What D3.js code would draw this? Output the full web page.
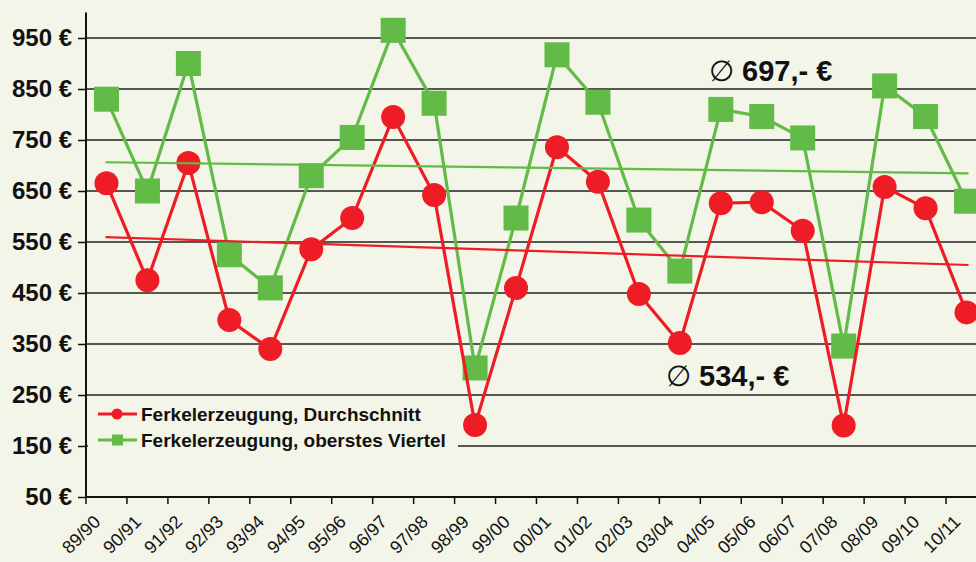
<!DOCTYPE html>
<html><head><meta charset="utf-8">
<script src="https://cdn.jsdelivr.net/npm/d3@7"></script>
<style>
html,body{margin:0;padding:0;background:#F2F5E8;}
svg{display:block;font-family:"Liberation Sans",Arial,sans-serif;}
</style></head>
<body>
<svg id="chart" width="976" height="562"></svg>
<script>
const categories = ["89/90","90/91","91/92","92/93","93/94","94/95","95/96","96/97","97/98","98/99","99/00","00/01","01/02","02/03","03/04","04/05","05/06","06/07","07/08","08/09","09/10","10/11"];
const durchschnitt = [665,475,705,397,340,536,597,795,642,191,460,736,668,448,352,626,628,572,190,658,616,412];
const oberstesViertel = [830,650,900,525,460,680,755,965,822,303,597,917,824,593,493,810,796,754,346,856,796,630];
const yTicks = [50,150,250,350,450,550,650,750,850,950];
const seriesNames = ["Ferkelerzeugung, Durchschnitt","Ferkelerzeugung, oberstes Viertel"];
const avgLabels = ["\u2205 534,- \u20AC","\u2205 697,- \u20AC"];

const RED = "#EE1C25", GREEN = "#62BB46";
const svg = d3.select("#chart");
const W = 976, H = 562;
svg.append("rect").attr("width",W).attr("height",H).attr("fill","#F2F5E8");

const x = d3.scaleBand().domain(categories).range([86, 987]).padding(0);
const y = d3.scaleLinear().domain([50, 1000]).range([497, 12.5]);
const cx = d => x(d) + x.bandwidth()/2;

// gridlines
svg.append("g").selectAll("line").data(yTicks.slice(1)).join("line")
  .attr("x1",86).attr("x2",W).attr("y1",d=>y(d)).attr("y2",d=>y(d))
  .attr("stroke","#222").attr("stroke-width",1.4);

// y axis
const yAxis = svg.append("g").attr("transform","translate(86,0)")
  .call(d3.axisLeft(y).tickValues(yTicks).tickSize(8).tickPadding(6).tickFormat(d=>d+" \u20AC"));
yAxis.select(".domain").attr("stroke","#111").attr("stroke-width",2).attr("d","M0,12.5V497");
yAxis.selectAll(".tick line").attr("stroke","#111").attr("stroke-width",1.5);
yAxis.selectAll("text").attr("font-size",24).attr("font-weight","bold").attr("fill","#111")
  .attr("font-family","'Liberation Sans',Arial,sans-serif");

// x axis
const xg = svg.append("g");
xg.append("line").attr("x1",86).attr("x2",W).attr("y1",y(50)).attr("y2",y(50))
  .attr("stroke","#111").attr("stroke-width",2);
xg.selectAll("line.t").data(categories).join("line").attr("class","t")
  .attr("x1",d=>x(d)).attr("x2",d=>x(d)).attr("y1",y(50)).attr("y2",y(50)+7)
  .attr("stroke","#111").attr("stroke-width",1.5);
xg.selectAll("text").data(categories).join("text")
  .attr("transform",d=>`translate(${cx(d)-5},${y(50)+26}) rotate(-45)`)
  .attr("text-anchor","end").attr("font-size",18).attr("fill","#111").text(d=>d);

// legend background covering gridline
svg.append("rect").attr("x",88).attr("y",400).attr("width",370).attr("height",54).attr("fill","#F2F5E8");

// lines
const line = d3.line().x((d,i)=>cx(categories[i])).y(d=>y(d));
function regression(vals){
  const n=vals.length, mx=(n-1)/2, my=d3.mean(vals);
  let sxy=0,sxx=0; vals.forEach((v,i)=>{sxy+=(i-mx)*(v-my);sxx+=(i-mx)*(i-mx);});
  const b=sxy/sxx; return vals.map((v,i)=>my+b*(i-mx));
}

svg.append("path").datum(oberstesViertel).attr("d",line).attr("fill","none").attr("stroke",GREEN).attr("stroke-width",3.2);
svg.append("g").selectAll("rect").data(oberstesViertel).join("rect")
  .attr("x",(d,i)=>cx(categories[i])-12.5).attr("y",d=>y(d)-12.5).attr("width",25).attr("height",25).attr("fill",GREEN);

svg.append("path").datum(durchschnitt).attr("d",line).attr("fill","none").attr("stroke",RED).attr("stroke-width",3.2);
svg.append("g").selectAll("circle").data(durchschnitt).join("circle")
  .attr("cx",(d,i)=>cx(categories[i])).attr("cy",d=>y(d)).attr("r",12).attr("fill",RED);

// trend lines
const tr = regression(durchschnitt), tg = regression(oberstesViertel);
svg.append("line").attr("x1",cx(categories[0])-1).attr("x2",cx(categories[categories.length-1])+2)
  .attr("y1",y(tg[0])).attr("y2",y(tg[tg.length-1])).attr("stroke",GREEN).attr("stroke-width",2.2);
svg.append("line").attr("x1",cx(categories[0])-1).attr("x2",cx(categories[categories.length-1])+2)
  .attr("y1",y(tr[0])).attr("y2",y(tr[tr.length-1])).attr("stroke",RED).attr("stroke-width",2.2);

// legend
const leg = svg.append("g");
const legY = [414, 440];
[RED, GREEN].forEach((c,i)=>{
  leg.append("line").attr("x1",98).attr("x2",137).attr("y1",legY[i]).attr("y2",legY[i]).attr("stroke",c).attr("stroke-width",3.2);
  if(i===0) leg.append("circle").attr("cx",117).attr("cy",legY[i]).attr("r",5.5).attr("fill",c);
  else leg.append("rect").attr("x",112).attr("y",legY[i]-5.5).attr("width",11).attr("height",11).attr("fill",c);
  leg.append("text").attr("x",141).attr("y",legY[i]+6.5).attr("font-size",19).attr("font-weight","bold")
    .attr("fill","#111").text(seriesNames[i]);
});

// average annotations
function avg(t, xx, yy){
  const g = svg.append("text").attr("x",xx).attr("y",yy).attr("font-size",29).attr("font-weight","bold").attr("fill","#111");
  g.append("tspan").attr("font-weight","normal").text(t.slice(0,1));
  g.append("tspan").text(t.slice(1));
}
avg(avgLabels[1], 709, 81);
avg(avgLabels[0], 666, 386);
</script>
</body></html>
